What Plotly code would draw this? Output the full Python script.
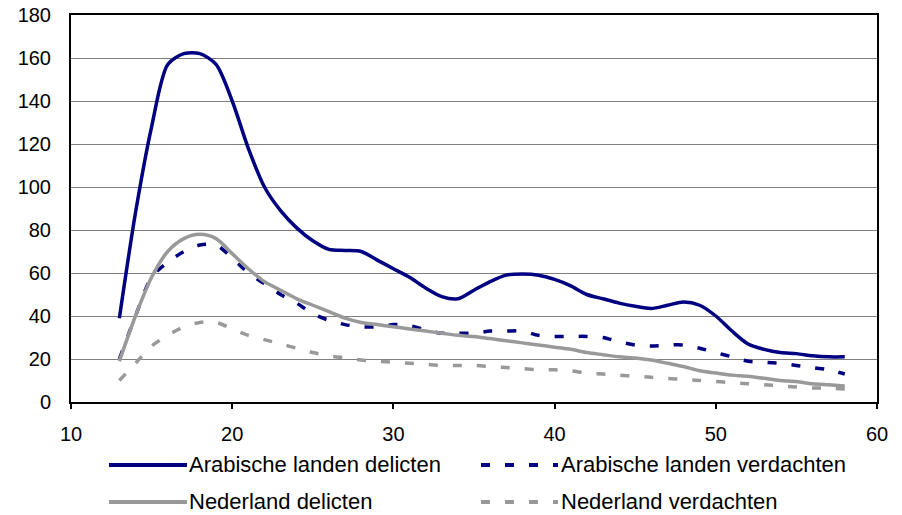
import plotly.graph_objects as go

ages = list(range(13, 59))

arab_delicten = [39, 88, 128, 157, 162, 162, 157, 140, 118, 100, 89, 81, 75, 71, 70.5, 70,
                 66, 62, 58, 53, 49, 48, 52, 56, 59, 59.5, 59, 57, 54, 50, 48, 46, 44.5, 43.5,
                 45, 46.5, 45, 40, 33, 27, 24.5, 23, 22.5, 21.5, 21, 21]
arab_verdachten = [20, 40, 58, 65, 70, 73, 73, 67, 60, 55, 50, 46, 41, 38, 36, 35,
                   35, 36, 35.5, 33.5, 32, 32, 32, 33, 33, 33, 31, 30.5, 30.5, 30.5, 30, 28, 26.5, 26,
                   26.5, 26.5, 25, 23, 21, 19, 18.5, 18, 17, 16, 15, 13]
nl_delicten = [19, 40, 58, 70, 76, 78, 76, 69, 62, 56, 52, 48, 45, 42, 39, 37,
               36, 35, 34, 33, 32, 31, 30.5, 29.5, 28.5, 27.5, 26.5, 25.5, 24.5, 23, 22, 21, 20.5, 19.5,
               18, 16.5, 14.5, 13.5, 12.5, 12, 11, 10, 9.5, 8.5, 8, 7.5]
nl_verdachten = [10, 18, 26, 31, 35, 37, 37, 34, 31, 29, 27, 25, 23, 21.5, 20.5, 19.5,
                 19, 18.5, 18, 17.5, 17, 17, 17, 16.5, 16, 15.5, 15, 15, 14.5, 13.5, 13, 12.5, 12, 11.5,
                 11, 10.5, 10, 9.5, 9, 8.5, 8, 7.5, 7, 6.5, 6.5, 6]

series_names = ["Arabische landen delicten", "Arabische landen verdachten",
                "Nederland delicten", "Nederland verdachten"]

x_ticks = [10, 20, 30, 40, 50, 60]
y_ticks = [0, 20, 40, 60, 80, 100, 120, 140, 160, 180]

NAVY = "#000080"
GRAY = "#999999"
FONT = "Liberation Sans"
DASH = "9px,15px"
LW = 3.5

series = [
    (arab_delicten, NAVY, "solid"),
    (arab_verdachten, NAVY, DASH),
    (nl_delicten, GRAY, "solid"),
    (nl_verdachten, GRAY, DASH),
]

fig = go.Figure()
for name, (vals, col, dash) in zip(series_names, series):
    fig.add_trace(go.Scatter(x=ages, y=vals, mode="lines", name=name, showlegend=False,
                             line=dict(color=col, width=LW, shape="spline", smoothing=0.8, dash=dash)))

# Custom legend (2 x 2 grid below the plot), in paper coordinates
L, R, T, B = 71, 25, 15, 113
W, H = 902, 515
pw, ph = W - L - R, H - T - B


def px_x(p):
    return (p - L) / pw


def px_y(p):
    return (H - B - p) / ph


legend_pos = [(109, 187, 187, 465), (481, 558, 559, 465), (109, 187, 187, 502), (481, 558, 559, 502)]
shapes = []
annotations = []
for name, (vals, col, dash), (x0, x1, xt, yy) in zip(series_names, series, legend_pos):
    shapes.append(dict(type="line", xref="paper", yref="paper", x0=px_x(x0), x1=px_x(x1),
                       y0=px_y(yy), y1=px_y(yy), line=dict(color=col, width=4, dash=dash)))
    annotations.append(dict(text=name, xref="paper", yref="paper", x=px_x(xt), y=px_y(yy - 1),
                            xanchor="left", yanchor="middle", showarrow=False,
                            font=dict(family=FONT, size=22, color="black")))

fig.update_layout(
    width=W, height=H,
    margin=dict(l=L, r=R, t=T, b=B, autoexpand=False),
    paper_bgcolor="white", plot_bgcolor="white",
    font=dict(family=FONT, size=20, color="black"),
    showlegend=False,
    xaxis=dict(range=[10, 60], tickvals=x_ticks, ticktext=[str(v) for v in x_ticks],
               showgrid=False, zeroline=False, showline=True, linecolor="black", linewidth=2,
               mirror=True, ticks="outside", ticklen=5, tickwidth=2, tickcolor="black",
               ticklabelstandoff=8, tickfont=dict(family=FONT, size=20)),
    yaxis=dict(range=[0, 180], tickvals=y_ticks, ticktext=[str(v) for v in y_ticks],
               showgrid=True, gridcolor="#808080", gridwidth=1, zeroline=False,
               showline=True, linecolor="black", linewidth=2, mirror=True, ticks="",
               ticklabelstandoff=14, tickfont=dict(family=FONT, size=20)),
    shapes=shapes,
    annotations=annotations,
)

fig.write_html("out.html", config={"displayModeBar": False},
               post_script="document.body.style.margin='0';document.body.style.overflow='hidden';")
